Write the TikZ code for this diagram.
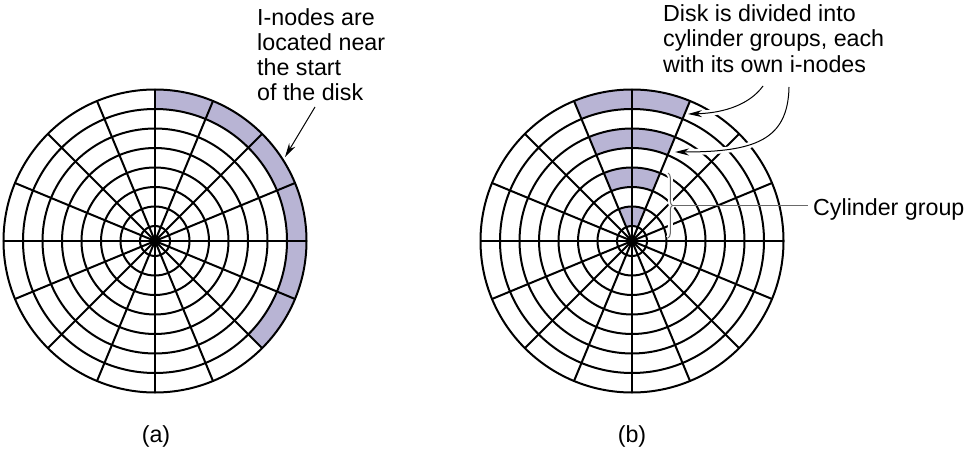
\documentclass[tikz,border=0pt]{standalone}
\usepackage{fontspec}
\setmainfont{Liberation Sans}
\usepackage{tikz}
\usetikzlibrary{arrows.meta,decorations.pathreplacing,positioning}
\definecolor{inodefill}{RGB}{184,180,212}
\definecolor{bracegray}{RGB}{105,105,105}

\begin{document}
\begin{tikzpicture}[x=1pt,y=1pt,
	disk/.style={line width=2pt,black},
	inode/.style={fill=inodefill},
	callout/.style={-{Stealth[length=14pt,width=7pt]},line width=1pt},
	halo/.style={white,line width=6pt},
	note/.style={font=\fontsize{23.25}{25.3}\selectfont,inner sep=0pt,align=left}]
	\useasboundingbox (0,0) rectangle (968,448);

	% (a) i-nodes at the start of the disk
	\begin{scope}[shift={(155,207)}]
		\fill[inode] (90:151.5) arc[start angle=90,end angle=-45,radius=151.5]
			-- (-45:132) arc[start angle=-45,end angle=90,radius=132] -- cycle;
		\foreach \k in {0,...,7}
			\draw[disk] (0,0) circle ({15+19.5*\k});
		\foreach \i in {0,...,15}
			\draw[disk] (0,0) -- ({\i*22.5}:151.5);
		\fill (0,0) circle (4.5);
	\end{scope}

	% (b) one i-node band per cylinder group
	\begin{scope}[shift={(632,207)}]
		\foreach \k in {0,2,4,6} {
			\pgfmathsetmacro\rin{15+19.5*\k}
			\pgfmathsetmacro\rout{\rin+19.5}
			\fill[inode] (67.5:\rout) arc[start angle=67.5,end angle=112.5,radius=\rout]
				-- (112.5:\rin) arc[start angle=112.5,end angle=67.5,radius=\rin] -- cycle;
		}
		\foreach \k in {0,...,7}
			\draw[disk] (0,0) circle ({15+19.5*\k});
		\foreach \i in {0,...,15}
			\draw[disk] (0,0) -- ({\i*22.5}:151.5);
		\fill (0,0) circle (4.5);
	\end{scope}

	% texts
	\node[note,anchor=north west] (txta) at (257,440) {I-nodes are\\located near\\the start\\of the disk};
	\node[note,anchor=north west] (txtb) at (663,443.6) {Disk is divided into\\cylinder groups, each\\with its own i-nodes};
	\node[note,anchor=base west] (cglabel) at (813,233) {Cylinder group};
	\node[note,anchor=base] (capa) at (156,6) {(a)};
	\node[note,anchor=base] (capb) at (632,6) {(b)};

	% arrows
	\coordinate (pa) at (315,341);
	\coordinate (ta) at (285,291);
	\draw[callout] (pa) -- (ta);

	\coordinate (pb1) at (763,362);
	\coordinate (tb1) at (688,334);
	\coordinate (pb2) at (789,361);
	\coordinate (tb2) at (675,296);
	\draw[halo,shorten >=10pt] (pb1) .. controls (750,344) and (725,335) .. (tb1);
	\draw[callout] (pb1) .. controls (750,344) and (725,335) .. (tb1);
	\draw[halo,shorten >=10pt] (pb2) .. controls (788,308) and (755,296) .. (tb2);
	\draw[callout] (pb2) .. controls (788,308) and (755,296) .. (tb2);

	% cylinder group brace
	\coordinate (cgtop) at (668,275);
	\coordinate (cgbot) at (668,210);
	\coordinate (cgtip) at (673,242.5);
	\draw[white,line width=5pt,decorate,decoration={brace,amplitude=4.5pt}] (cgtop) -- (cgbot);
	\draw[bracegray,line width=1pt,decorate,decoration={brace,amplitude=4.5pt}] (cgtop) -- (cgbot);
	\draw[bracegray,line width=1.2pt,shorten >=5pt] (cgtip) -- (cgtip -| cglabel.west);
\end{tikzpicture}
\end{document}
